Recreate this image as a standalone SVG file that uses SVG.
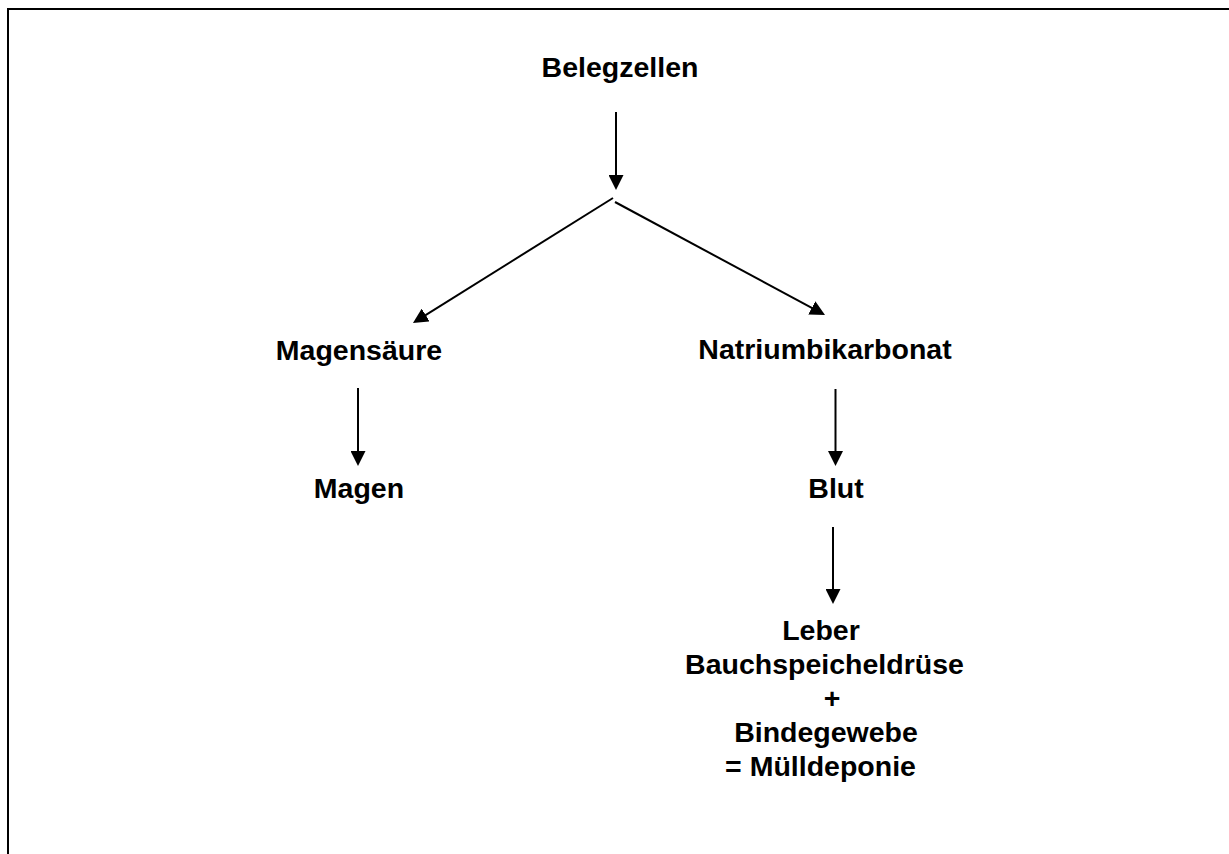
<svg xmlns="http://www.w3.org/2000/svg" width="1229" height="854" viewBox="0 0 1229 854">
<style>
.t{font-family:"Liberation Sans",Arial,sans-serif;font-weight:bold;font-size:28.5px;fill:#000;text-anchor:middle}
.c{stroke:#000;stroke-width:2;fill:none;marker-end:url(#ah)}
.f{stroke:#000;stroke-width:2;fill:none}
</style>
<defs>
<marker id="ah" markerUnits="userSpaceOnUse" markerWidth="15" markerHeight="15" refX="10" refY="7.5" orient="auto" viewBox="0 0 15 15">
<path d="M0,0 L15,7.5 L0,15 z" fill="#000"/>
</marker>
</defs>
<g id="frame">
<line class="f" x1="7" y1="9" x2="1229" y2="9"/>
<line class="f" x1="8" y1="8" x2="8" y2="854"/>
</g>
<g id="connectors">
<line class="c" x1="616" y1="112" x2="616" y2="185"/>
<line class="c" x1="613" y1="198" x2="417.2" y2="320.3"/>
<line class="c" x1="615" y1="202" x2="820.6" y2="312.6"/>
<line class="c" x1="358" y1="388" x2="358" y2="461"/>
<line class="c" x1="835.5" y1="389" x2="835.5" y2="461"/>
<line class="c" x1="833" y1="527" x2="833" y2="599"/>
</g>
<g id="belegzellen"><text class="t" x="620" y="77">Belegzellen</text></g>
<g id="magensaeure"><text class="t" x="359" y="360">Magensäure</text></g>
<g id="natriumbikarbonat"><text class="t" x="825" y="358.5">Natriumbikarbonat</text></g>
<g id="magen"><text class="t" x="359" y="498">Magen</text></g>
<g id="blut"><text class="t" x="836" y="498">Blut</text></g>
<g id="muelldeponie">
<text class="t" x="821" y="640">Leber</text>
<text class="t" x="824.5" y="674">Bauchspeicheldrüse</text>
<text class="t" x="832" y="708">+</text>
<text class="t" x="826" y="742">Bindegewebe</text>
<text class="t" x="820.5" y="776">= Mülldeponie</text>
</g>
</svg>
